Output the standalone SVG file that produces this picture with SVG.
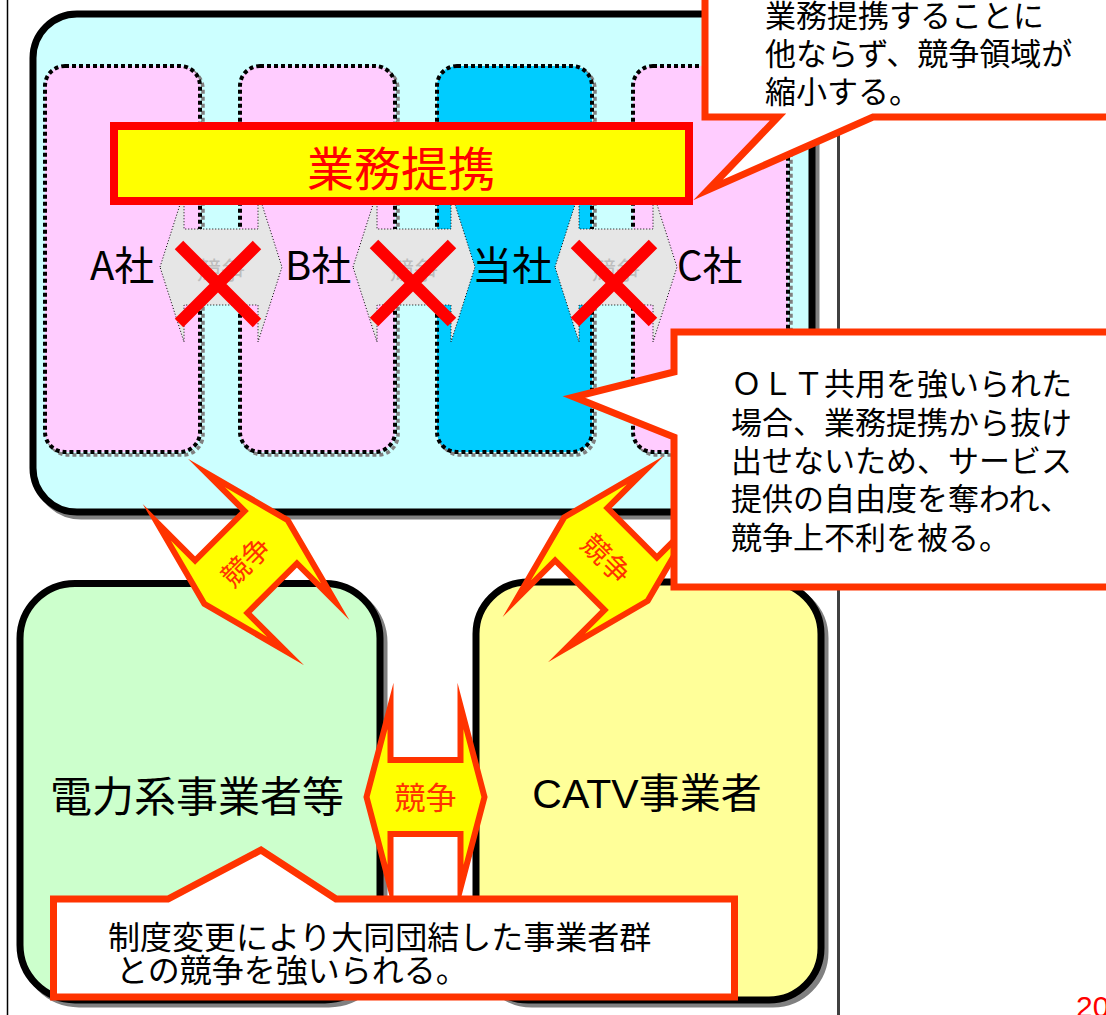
<svg xmlns="http://www.w3.org/2000/svg" width="1106" height="1015" viewBox="0 0 1106 1015">
<defs>
<style>
.jp{font-family:"Noto Sans CJK JP","Noto Sans CJK SC",sans-serif}
.lat{font-family:"Liberation Sans","Noto Sans CJK JP",sans-serif}
.sh{fill:none;stroke:#808080}
.boxline{stroke:#000;stroke-width:7}
.colsh{fill:none;stroke:#808080;stroke-width:3.5;stroke-dasharray:4 3}
.col{stroke:#000;stroke-width:4;stroke-dasharray:4 3}
.pink{fill:#FFCCFF}
.ga{fill:#E6E6E6;stroke:#000;stroke-width:1;stroke-dasharray:1 2}
.gtext{fill:#BDBDBD;font-size:24px;text-anchor:middle}
.xmark{stroke:#FF0000;stroke-width:12;fill:none}
.label{font-size:40px;fill:#000}
.ba{fill:#FFFF00;stroke:#FF3300;stroke-width:6;stroke-linejoin:miter;stroke-miterlimit:20}
.batext{fill:#FF3300;font-size:28px;text-anchor:middle}
.batext-big{fill:#FF3300;font-size:31px;text-anchor:middle}
.callout{fill:#FFFFFF;stroke:#FF3300;stroke-width:7;stroke-linejoin:miter;stroke-miterlimit:10}
.ctext{font-size:31px;fill:#000}
.ctext-big{font-size:32px;fill:#000}
</style>
<path id="bigArrow" d="M-59,0 L-35,-91 L-35,-37 L35,-37 L35,-91 L59,0 L35,91 L35,37 L-35,37 L-35,91 Z"/>
<path id="grayArrow" d="M-61,0 L-37,-75 L-37,-38 L37,-38 L37,-75 L61,0 L37,75 L37,38 L-37,38 L-37,75 Z"/>
</defs>

<g id="frame">
<line x1="7.5" y1="0" x2="7.5" y2="1015" stroke="#000" stroke-width="1.5"/>
<line x1="838.5" y1="0" x2="838.5" y2="1015" stroke="#404040" stroke-width="3"/>
</g>

<g id="alliance-box">
<rect class="sh" x="37" y="18" width="779" height="498" rx="44" stroke-width="7"/>
<rect class="boxline" x="33" y="14" width="779" height="498" rx="44" fill="#CCFFFF"/>
</g>

<g id="col-a">
<rect class="colsh" x="48" y="69" width="155" height="386" rx="20"/>
<rect class="col pink" x="45" y="66" width="155" height="386" rx="20"/>
</g>
<g id="col-b">
<rect class="colsh" x="243" y="69" width="155" height="386" rx="20"/>
<rect class="col pink" x="240" y="66" width="155" height="386" rx="20"/>
</g>
<g id="col-self">
<rect class="colsh" x="440" y="69" width="155" height="386" rx="20"/>
<rect class="col" fill="#00CCFF" x="437" y="66" width="155" height="386" rx="20"/>
</g>
<g id="col-c">
<rect class="colsh" x="636" y="69" width="155" height="386" rx="20"/>
<rect class="col pink" x="633" y="66" width="155" height="386" rx="20"/>
</g>

<g id="connectors">
<g id="comp-ab">
<use href="#grayArrow" class="ga" transform="translate(221,267)"/>
<text class="jp gtext" x="221" y="279">競争</text>
</g>
<g id="comp-b-self">
<use href="#grayArrow" class="ga" transform="translate(414,267)"/>
<text class="jp gtext" x="414" y="279">競争</text>
</g>
<g id="comp-self-c">
<use href="#grayArrow" class="ga" transform="translate(616,267)"/>
<text class="jp gtext" x="616" y="279">競争</text>
</g>
</g>

<g id="alliance-label">
<rect x="114" y="126" width="575" height="75" fill="#FFFF00" stroke="#FF0000" stroke-width="8"/>
<text class="jp" x="401" y="186" font-size="47" fill="#FF0000" text-anchor="middle">業務提携</text>
</g>

<g id="labels">
<text class="jp label" x="90" y="280">A社</text>
<text class="jp label" x="285" y="280">B社</text>
<text class="jp label" x="472" y="280">当社</text>
<text class="jp label" x="677" y="280">C社</text>
</g>

<g id="x-marks">
<path class="xmark" d="M179,245 L257,323 M257,245 L179,323"/>
<path class="xmark" d="M374,244 L452,322 M452,244 L374,322"/>
<path class="xmark" d="M575,244 L653,322 M653,244 L575,322"/>
</g>

<g id="power-box">
<rect class="sh" x="24" y="587.5" width="360" height="416.5" rx="55" stroke-width="7"/>
<rect class="boxline" x="20" y="583.5" width="360" height="416.5" rx="55" fill="#CCFFCC"/>
<text class="jp" x="197" y="812" font-size="42" text-anchor="middle" fill="#000">電力系事業者等</text>
</g>

<g id="catv-box">
<rect class="sh" x="480" y="586" width="345" height="418" rx="52" stroke-width="7"/>
<rect class="boxline" x="476" y="582" width="345" height="418" rx="52" fill="#FFFF99"/>
<text class="lat" x="647" y="808" font-size="41" text-anchor="middle" fill="#000">CATV事業者</text>
</g>

<g id="competition-arrows">
<g transform="translate(246,562) rotate(-45)">
<use href="#bigArrow" class="ba"/>
<text class="jp batext" x="0" y="10">競争</text>
</g>
<g transform="translate(606,559) rotate(45)">
<use href="#bigArrow" class="ba"/>
<text class="jp batext" x="0" y="10">競争</text>
</g>
<g transform="translate(425.5,797)">
<use href="#bigArrow" class="ba"/>
<text class="jp batext-big" x="0" y="12">競争</text>
</g>
</g>

<g id="callout-top">
<path class="callout" d="M705,-10 L705,117 L778,117 L708,190 L873,117 L1116,117 L1116,-10 Z"/>
<text class="jp ctext" x="765" y="27">業務提携することに</text>
<text class="jp ctext" x="765" y="65">他ならず、競争領域が</text>
<text class="jp ctext" x="765" y="103">縮小する。</text>
</g>

<g id="callout-olt">
<path class="callout" d="M674,332 L1116,332 L1116,587 L674,587 L674,437 L574,397 L674,372 Z"/>
<text class="jp ctext" x="731" y="395">ＯＬＴ共用を強いられた</text>
<text class="jp ctext" x="731" y="434">場合、業務提携から抜け</text>
<text class="jp ctext" x="731" y="472">出せないため、サービス</text>
<text class="jp ctext" x="731" y="510">提供の自由度を奪われ、</text>
<text class="jp ctext" x="731" y="549">競争上不利を被る。</text>
</g>

<g id="callout-bottom">
<path class="callout" d="M53.5,899 L168,899 L261,850 L336,899 L734.5,899 L734.5,997 L53.5,997 Z"/>
<text class="jp ctext-big" x="108" y="949">制度変更により大同団結した事業者群</text>
<text class="jp ctext-big" x="116" y="982">との競争を強いられる。</text>
</g>

<g id="page-number">
<text class="lat" x="1076" y="1017" font-size="30" fill="#FF0000">20</text>
</g>
</svg>
